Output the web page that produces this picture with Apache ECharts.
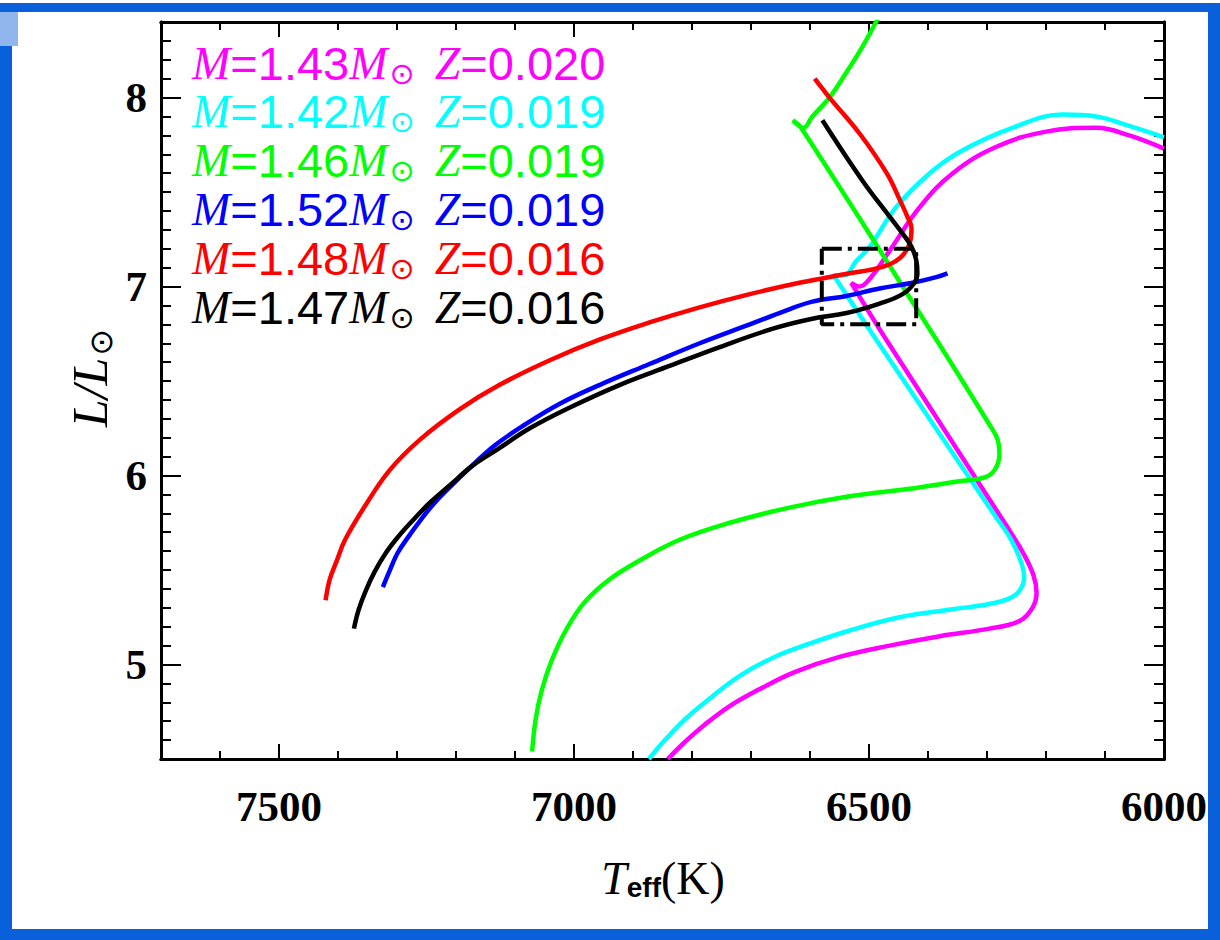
<!DOCTYPE html>
<html><head><meta charset="utf-8">
<script src="https://cdn.jsdelivr.net/npm/echarts@6/dist/echarts.min.js"></script>
<style>html,body{margin:0;padding:0;background:#fff}#c{width:1220px;height:940px}</style>
</head><body><div id="c"></div>
<script>
// ---- axis ticks ----
const xMajorTicks = [6000, 6500, 7000, 7500];
const yMajorTicks = [5, 6, 7, 8];
const xMinorTicks = [6100, 6200, 6300, 6400, 6600, 6700, 6800, 6900, 7100, 7200, 7300, 7400, 7600];
const yMinorTicks = [4.6, 4.7, 4.8, 4.9, 5.1, 5.2, 5.3, 5.4, 5.5, 5.6, 5.7, 5.8, 5.9, 6.1, 6.2, 6.3, 6.4, 6.5, 6.6, 6.7, 6.8, 6.9, 7.1, 7.2, 7.3, 7.4, 7.5, 7.6, 7.7, 7.8, 7.9, 8.1, 8.2, 8.3];

// ---- legend ----
const trackMass = ['1.43', '1.42', '1.46', '1.52', '1.48', '1.47'];
const trackZ = ['0.020', '0.019', '0.019', '0.019', '0.016', '0.016'];
const trackColors = ['#ff00ff', '#00ffff', '#00ff00', '#0000ff', '#ff0000', '#000000'];

// ---- tracks: [Teff (K), L/Lsun] ----
const trackM143Z020 = [[6841,4.50],[6812,4.59],[6779,4.68],[6736,4.78],[6685,4.87],[6626,4.96],[6550,5.04],[6465,5.10],[6380,5.15],[6296,5.19],[6245,5.23],[6223,5.30],[6216,5.38],[6221,5.47],[6237,5.58],[6262,5.71],[6471,6.72],[6530,7.02],[6516,7.00],[6499,7.04],[6465,7.19],[6414,7.42],[6358,7.60],[6284,7.74],[6200,7.82],[6115,7.84],[6059,7.80],[6000,7.73]];
const trackM142Z019 = [[6873,4.50],[6846,4.60],[6812,4.71],[6770,4.82],[6719,4.94],[6660,5.04],[6601,5.11],[6533,5.18],[6448,5.25],[6364,5.29],[6296,5.32],[6262,5.35],[6245,5.39],[6237,5.46],[6242,5.54],[6259,5.66],[6287,5.79],[6488,6.72],[6560,7.06],[6541,7.06],[6523,7.13],[6499,7.21],[6454,7.42],[6397,7.60],[6342,7.72],[6257,7.84],[6172,7.91],[6115,7.90],[6059,7.85],[6000,7.79]];
const trackM146Z019 = [[7071,4.54],[7065,4.71],[7055,4.86],[7038,5.02],[7014,5.18],[6982,5.33],[6940,5.45],[6889,5.55],[6821,5.66],[6736,5.75],[6635,5.83],[6533,5.89],[6431,5.93],[6347,5.97],[6304,5.99],[6287,6.03],[6279,6.11],[6282,6.19],[6296,6.27],[6386,6.72],[6615,7.84],[6629,7.88],[6611,7.84],[6596,7.90],[6567,8.00],[6539,8.13],[6511,8.27],[6488,8.40],[6470,8.50]];
const trackM152Z019 = [[7324,5.41],[7312,5.50],[7299,5.59],[7282,5.67],[7261,5.76],[7238,5.85],[7210,5.94],[7177,6.04],[7134,6.16],[7083,6.27],[7024,6.38],[6956,6.48],[6872,6.59],[6787,6.70],[6702,6.80],[6652,6.86],[6596,6.92],[6538,6.95],[6482,6.99],[6426,7.02],[6386,7.05],[6367,7.07]];
const trackM148Z016 = [[7421,5.34],[7414,5.45],[7402,5.55],[7388,5.66],[7354,5.84],[7312,6.03],[7261,6.19],[7194,6.35],[7126,6.48],[7041,6.61],[6956,6.72],[6872,6.81],[6787,6.89],[6702,6.96],[6618,7.02],[6533,7.07],[6482,7.10],[6448,7.15],[6431,7.23],[6428,7.31],[6435,7.37],[6448,7.46],[6470,7.60],[6516,7.81],[6567,8.00],[6592,8.10]];
const trackM147Z016 = [[7373,5.19],[7365,5.29],[7353,5.39],[7338,5.49],[7319,5.59],[7297,5.68],[7271,5.77],[7243,5.86],[7210,5.95],[7173,6.05],[7129,6.14],[7075,6.25],[7007,6.36],[6922,6.48],[6838,6.58],[6753,6.68],[6660,6.78],[6596,6.83],[6538,6.86],[6482,6.91],[6443,6.96],[6423,7.02],[6418,7.07],[6420,7.14],[6428,7.21],[6443,7.28],[6465,7.37],[6511,7.56],[6579,7.88]];
const boxCorners = [[6580,7.2],[6420,7.2],[6420,6.8],[6580,6.8],[6580,7.2]];

const tracks = [trackM143Z020, trackM142Z019, trackM146Z019, trackM152Z019, trackM148Z016, trackM147Z016];

const chart = echarts.init(document.getElementById('c'), null, {renderer: 'svg'});

function xAx(pos, ticks, len, showLabel) {
  return {
    type: 'value', position: pos, min: 6000, max: 7700, inverse: true,
    axisLine: {show: true, onZero: false, lineStyle: {color: '#000', width: 3}},
    axisTick: {show: true, inside: true, length: len, customValues: ticks, lineStyle: {color: '#000', width: 2}},
    axisLabel: {show: showLabel, customValues: ticks, margin: 26, formatter: v => String(v),
      fontFamily: 'Liberation Serif', fontWeight: 'bold', fontSize: 43, color: '#000'},
    splitLine: {show: false}
  };
}
function yAx(pos, ticks, len, showLabel) {
  return {
    type: 'value', position: pos, min: 4.5, max: 8.4,
    axisLine: {show: true, onZero: false, lineStyle: {color: '#000', width: 3}},
    axisTick: {show: true, inside: true, length: len, customValues: ticks, lineStyle: {color: '#000', width: 2}},
    axisLabel: {show: showLabel, customValues: ticks, margin: 14, formatter: v => String(v),
      fontFamily: 'Liberation Serif', fontWeight: 'bold', fontSize: 43, color: '#000'},
    splitLine: {show: false}
  };
}

const series = tracks.map((d, i) => ({
  type: 'line', name: 'M=' + trackMass[i] + ' Z=' + trackZ[i], data: d,
  xAxisIndex: 0, yAxisIndex: 0, showSymbol: false, symbol: 'none', smooth: 0.4,
  clip: true, lineStyle: {color: trackColors[i], width: 4.5}, z: 3 + i
}));
series.push({
  type: 'line', name: 'box', data: boxCorners, xAxisIndex: 0, yAxisIndex: 0,
  showSymbol: false, symbol: 'none', lineStyle: {color: '#000', width: 4, type: [20, 6, 4, 6]}, z: 10
});

const legendGraphics = trackMass.map((m, i) => {
  const c = trackColors[i];
  return {
    type: 'text', x: 192, y: 63 + i * 48.8, z: 100,
    style: {
      text: '{m|M}{n|=' + m + '}{m|M}{s|⊙}{g| }{m|Z}{n|=' + trackZ[i] + '}',
      verticalAlign: 'middle', align: 'left',
      rich: {
        m: {fontFamily: 'Liberation Serif', fontStyle: 'italic', fontSize: 46, fill: c},
        n: {fontFamily: 'Liberation Sans', fontSize: 47, fill: c},
        s: {fontFamily: 'DejaVu Sans', fontSize: 30, fill: c, padding: [20, 0, 0, 2]},
        g: {fontSize: 30, fill: c, width: 20}
      }
    }
  };
});

const frameBlue = '#0a60da';
const graphics = [
  {type: 'rect', shape: {x: 0, y: 3, width: 1220, height: 9}, style: {fill: frameBlue}, z: 0},
  {type: 'rect', shape: {x: 0, y: 12, width: 12, height: 928}, style: {fill: frameBlue}, z: 0},
  {type: 'rect', shape: {x: 0, y: 12, width: 18, height: 34}, style: {fill: '#8fb6ee'}, z: 0},
  {type: 'rect', shape: {x: 1208, y: 12, width: 12, height: 928}, style: {fill: frameBlue}, z: 0},
  {type: 'rect', shape: {x: 0, y: 929, width: 1220, height: 11}, style: {fill: frameBlue}, z: 0},
  {type: 'text', x: 663, y: 878, z: 100, style: {
    text: '{t|T}{e|eff}{k|(K)}', align: 'center', verticalAlign: 'middle',
    rich: {
      t: {fontFamily: 'Liberation Serif', fontStyle: 'italic', fontSize: 46, fill: '#000'},
      e: {fontFamily: 'Liberation Sans', fontWeight: 'bold', fontSize: 28, fill: '#000', padding: [18, 0, 0, 0]},
      k: {fontFamily: 'Liberation Serif', fontSize: 46, fill: '#000'}
    }}},
  {type: 'text', x: 90, y: 378, rotation: Math.PI / 2, z: 100, style: {
    text: '{l|L/L}{s|⊙}', align: 'center', verticalAlign: 'middle',
    rich: {
      l: {fontFamily: 'Liberation Serif', fontStyle: 'italic', fontSize: 50, fill: '#000'},
      s: {fontFamily: 'DejaVu Sans', fontSize: 32, fill: '#000', padding: [22, 0, 0, 2]}
    }}}
].concat(legendGraphics);

chart.setOption({
  animation: false,
  backgroundColor: '#fff',
  grid: {left: 161, right: 56, top: 22, bottom: 181, containLabel: false},
  xAxis: [xAx('bottom', xMajorTicks, 15, true), xAx('bottom', xMinorTicks, 8, false),
          xAx('top', xMajorTicks, 15, false), xAx('top', xMinorTicks, 8, false)],
  yAxis: [yAx('left', yMajorTicks, 20, true), yAx('left', yMinorTicks, 10, false),
          yAx('right', yMajorTicks, 20, false), yAx('right', yMinorTicks, 10, false)],
  series: series,
  graphic: graphics
});
</script></body></html>
